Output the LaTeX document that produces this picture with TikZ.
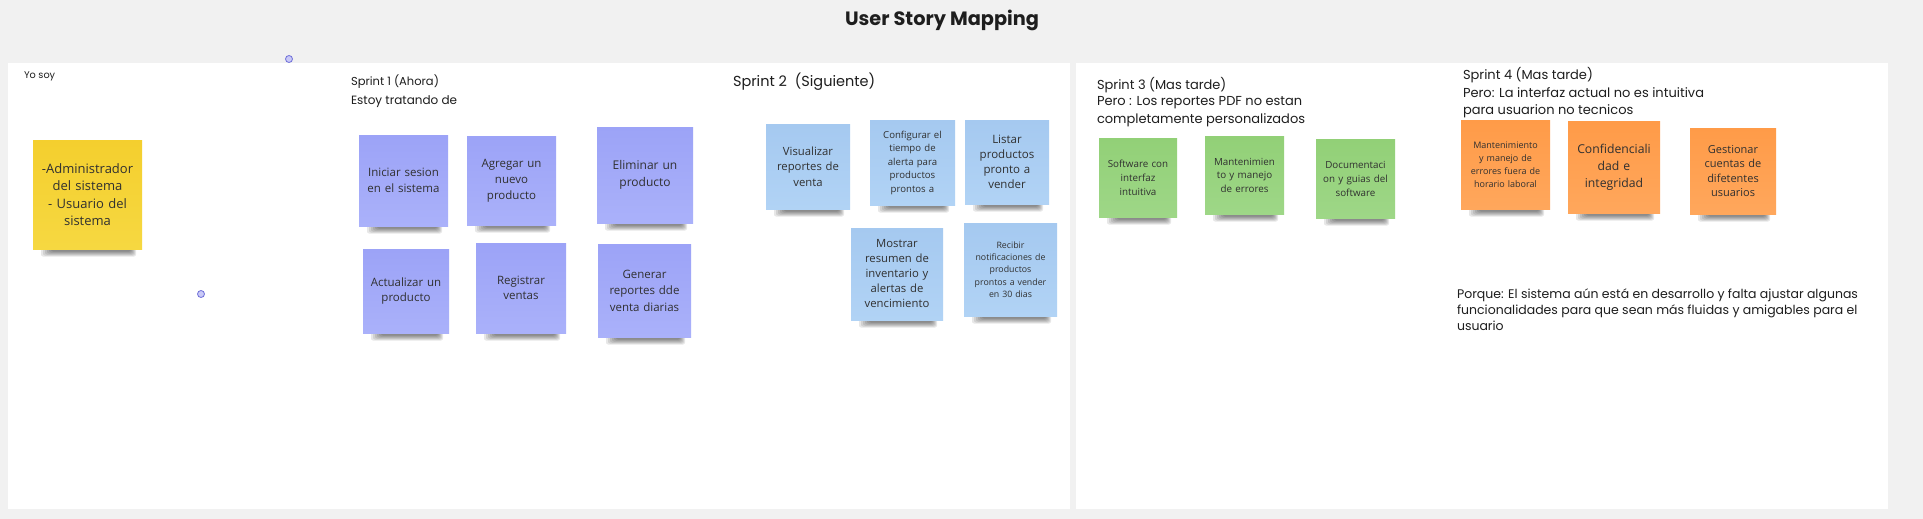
\documentclass[tikz,border=0pt]{standalone}
\usepackage{fontspec}
\setmainfont{Poppins}
\newfontfamily\notefont{Open Sans}
\definecolor{bgc}{HTML}{F1F1F1}
\definecolor{hdrtext}{HTML}{1E1E1E}
\definecolor{notetext}{HTML}{303030}
\definecolor{yelT}{HTML}{F4CF2E}
\definecolor{yelB}{HTML}{F6D841}
\definecolor{lavT}{HTML}{9CA3F7}
\definecolor{lavB}{HTML}{AAB1FA}
\definecolor{bluT}{HTML}{A5C9F0}
\definecolor{bluB}{HTML}{B1D3F5}
\definecolor{grnT}{HTML}{92D077}
\definecolor{grnB}{HTML}{9ED787}
\definecolor{oraT}{HTML}{FF9B48}
\definecolor{oraB}{HTML}{FFA75C}
\definecolor{hdlfill}{HTML}{C9C9F7}
\definecolor{hdldraw}{HTML}{6F6FD8}
\tikzset{
  stickyshape/.style={inner sep=0pt, outer sep=0pt, align=center, text=notetext},
  hdr/.style={anchor=base west, inner sep=0pt, outer sep=0pt, text=hdrtext},
  panel/.style={fill=white, draw=none},
  handle/.style={circle, draw=hdldraw, fill=hdlfill, line width=0.8pt, minimum size=7pt, inner sep=0pt},
}
% name, x0, y0, x1, y1, colour prefix, size, leading, text
\newcommand\stickynote[9]{%
  \foreach \k in {0,...,5}{\fill[black,opacity=0.095,rounded corners=2pt] ({#2+8+2*\k},{#5-4}) rectangle ({#4-6-\k},{#5+7.5-\k});}
  \node[stickyshape, top color=#6T, bottom color=#6B,
        minimum width={(#4-#2)*1pt}, minimum height={(#5-#3)*1pt},
        text width={(#4-#2-8)*1pt},
        font={\notefont\fontsize{#7}{#8}\selectfont}] (#1) at ({(#2+#4)/2},{(#3+#5)/2}) {#9};%
}
\begin{document}
\begin{tikzpicture}[x=1pt,y=-1pt]
\fill[bgc] (0,0) rectangle (1923,519);
\useasboundingbox (0,0) rectangle (1923,519);
% panels
\fill[panel] (8,63) rectangle (1070,509);
\fill[panel] (1076,63) rectangle (1888,509);
% title
\node[inner sep=0pt, text=hdrtext, font={\fontsize{19.3}{23}\selectfont\bfseries}] (title) at (942,20) {User Story Mapping};
% handles
\node[handle] (h1) at (289,59) {};
\node[handle] (h2) at (201,294) {};
% headers
\node[hdr, font={\fontsize{9.7}{12}\selectfont}] (yosoy) at (24,78) {Yo soy};
\node[hdr, font={\fontsize{11.5}{14}\selectfont}] (s1a) at (351,85) {Sprint 1 (Ahora)};
\node[hdr, font={\fontsize{12}{14}\selectfont}] (s1b) at (351,104) {Estoy tratando de};
\node[hdr, font={\fontsize{14.5}{17}\selectfont}] (s2a) at (733,87) {Sprint 2\ \ (Siguiente)};
\node[hdr, font={\fontsize{13}{16}\selectfont}] (s3a) at (1097,89) {Sprint 3 (Mas tarde)};
\node[hdr, font={\fontsize{13}{16}\selectfont}] (s3b) at (1097,106) {Pero : Los reportes PDF no estan};
\node[hdr, font={\fontsize{13}{16}\selectfont}] (s3c) at (1097,123) {completamente personalizados};
\node[hdr, font={\fontsize{13}{16}\selectfont}] (s4a) at (1463,80) {Sprint 4 (Mas tarde)};
\node[hdr, font={\fontsize{13}{16}\selectfont}] (s4b) at (1463,97) {Pero: La interfaz actual no es intuitiva};
\node[hdr, font={\fontsize{13}{16}\selectfont}] (s4c) at (1463,114) {para usuarion no tecnicos};
\node[hdr, font={\fontsize{12.5}{16}\selectfont}] (pq1) at (1457,298) {Porque: El sistema aún está en desarrollo y falta ajustar algunas};
\node[hdr, font={\fontsize{12.5}{16}\selectfont}] (pq2) at (1457,314) {funcionalidades para que sean más fluidas y amigables para el};
\node[hdr, font={\fontsize{12.5}{16}\selectfont}] (pq3) at (1457,330) {usuario};
% yellow
\stickynote{rol}{33}{140}{142}{249}{yel}{13}{17.5}{-Administrador\\del sistema\\- Usuario del\\sistema}
% sprint 1
\stickynote{n11}{359}{135}{448}{226}{lav}{11.5}{16}{Iniciar sesion\\en el sistema}
\stickynote{n12}{467}{136}{556}{225}{lav}{11.5}{16}{Agregar un\\nuevo\\producto}
\stickynote{n13}{597}{127}{693}{223}{lav}{12}{17}{Eliminar un\\producto}
\stickynote{n14}{363}{249}{449}{333}{lav}{11.5}{15}{Actualizar un\\producto}
\stickynote{n15}{476}{243}{566}{333}{lav}{11.5}{15}{Registrar\\ventas}
\stickynote{n16}{598}{244}{691}{337}{lav}{11.5}{16.5}{Generar\\reportes dde\\venta diarias}
% sprint 2
\stickynote{n21}{766}{124}{850}{209}{blu}{11.3}{15.5}{Visualizar\\reportes de\\venta}
\stickynote{n22}{870}{120}{955}{205}{blu}{9.6}{13.5}{Configurar el\\tiempo de\\alerta para\\productos\\prontos a}
\stickynote{n23}{965}{120}{1049}{204}{blu}{11.5}{15}{Listar\\productos\\pronto a\\vender}
\stickynote{n24}{851}{228}{943}{320}{blu}{11.3}{15}{Mostrar\\resumen de\\inventario y\\alertas de\\vencimiento}
\stickynote{n25}{964}{223}{1057}{316}{blu}{8.8}{12.3}{Recibir\\notificaciones de\\productos\\prontos a vender\\en 30 dias}
% sprint 3
\stickynote{n31}{1099}{138}{1177}{217}{grn}{9.8}{14}{Software con\\interfaz\\intuitiva}
\stickynote{n32}{1205}{136}{1284}{214}{grn}{9.8}{13.5}{Mantenimien\\to y manejo\\de errores}
\stickynote{n33}{1316}{139}{1395}{218}{grn}{9.8}{14}{Documentaci\\on y guias del\\software}
% sprint 4
\stickynote{n41}{1461}{120}{1550}{209}{ora}{9}{13}{Mantenimiento\\y manejo de\\errores fuera de\\horario laboral}
\stickynote{n42}{1568}{121}{1660}{213}{ora}{12.2}{17}{Confidenciali\\dad e\\integridad}
\stickynote{n43}{1690}{128}{1776}{214}{ora}{11}{14.5}{Gestionar\\cuentas de\\difetentes\\usuarios}
\end{tikzpicture}
\end{document}
